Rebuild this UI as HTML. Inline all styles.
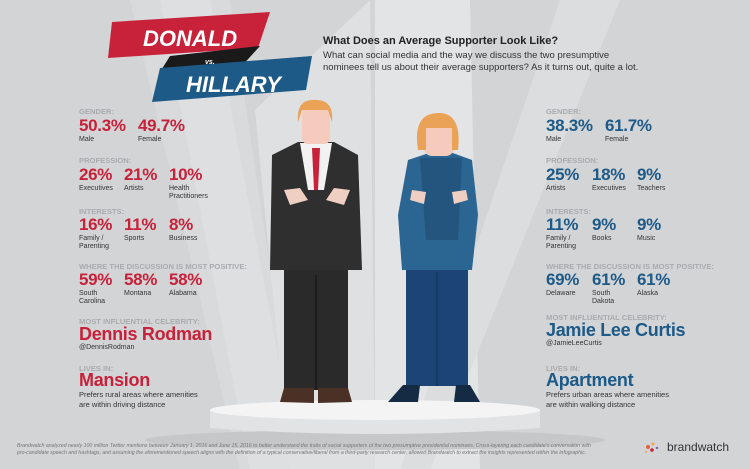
<!DOCTYPE html>
<html><head><meta charset="utf-8"><style>
body{margin:0;width:750px;height:469px;overflow:hidden;font-family:"Liberation Sans",sans-serif;}
#c{position:relative;width:750px;height:469px;background:#d3d4d6;overflow:hidden}
.t{position:absolute;white-space:nowrap}
.lab{font-size:7.6px;font-weight:bold;color:#a9abae}
.big{font-size:17px;font-weight:bold;letter-spacing:-0.3px}
.sm{font-size:7px;color:#333;line-height:8px}
.r{color:#c8213a}.b{color:#1d5a88}
.name{font-size:18px;font-weight:bold;letter-spacing:-0.3px}
</style></head><body><div id="c">
<svg width="750" height="469" style="position:absolute;left:0;top:0">
<polygon points="130,0 230,0 300,470 240,470" fill="#d9dadc"/>
<polygon points="160,0 210,0 300,470 250,470" fill="#dedfe1"/>
<polygon points="255,110 370,0 375,470 290,470" fill="#dfe0e2"/>
<polygon points="375,0 470,0 480,470 375,470" fill="#e3e4e6"/>
<polygon points="560,0 620,0 430,470 400,470" fill="#dcdddf"/>
<ellipse cx="375" cy="440" rx="230" ry="10" fill="#c6c7c9"/>
<path d="M210 410 L540 410 L540 428 Q375 440 210 428Z" fill="#e2e3e5"/>
<ellipse cx="375" cy="410" rx="165" ry="10" fill="#f4f4f5"/>
<polygon points="112,22 270,12 258,48 108,58" fill="#c8213a"/>
<polygon points="170,56 260,46 240,68 160,72" fill="#1a1a1a"/>
<polygon points="160,68 312,56 306,90 152,102" fill="#1d5a88"/>
<text x="143" y="46" fill="#fff" font-size="22" font-weight="bold" font-style="italic">DONALD</text>
<text x="205" y="64" fill="#fff" font-size="7" font-weight="bold" font-style="italic">vs.</text>
<text x="186" y="92" fill="#fff" font-size="22" font-weight="bold" font-style="italic">HILLARY</text>
<rect x="284" y="265" width="64" height="125" fill="#2a2a2a"/>
<line x1="316" y1="275" x2="316" y2="390" stroke="#1d1d1d" stroke-width="2"/>
<path d="M318 388 L348 388 L352 402 L318 403Z" fill="#4a3025"/>
<path d="M284 388 L314 388 L314 403 L280 402Z" fill="#4a3025"/>
<path d="M272 155 L298 142 L334 142 L358 155 L362 270 L270 270Z" fill="#2f2f2f"/>
<polygon points="300,143 332,143 324,190 308,190" fill="#f2f2f2"/>
<polygon points="312,148 320,148 318,190 314,190" fill="#c8213a"/>
<path d="M284 190 L300 188 L308 200 L290 205Z" fill="#f0cfc3"/>
<path d="M334 188 L350 190 L344 205 L326 200Z" fill="#f0cfc3"/>
<rect x="302" y="108" width="28" height="36" rx="6" fill="#f4cbbd"/>
<path d="M298 122 Q296 98 316 100 Q334 100 332 122 L328 110 L302 110Z" fill="#e9a256"/>
<rect x="406" y="268" width="62" height="118" fill="#1c4576"/>
<line x1="437" y1="272" x2="437" y2="386" stroke="#163a64" stroke-width="2"/>
<path d="M403 385 L420 385 L418 402 L388 402Z" fill="#152b44"/>
<path d="M456 385 L470 385 L480 402 L454 402Z" fill="#152b44"/>
<path d="M408 160 L432 152 L450 152 L472 160 L478 215 L472 270 L402 270 L398 215Z" fill="#2b6591"/>
<polygon points="420,158 462,158 458,240 426,240" fill="#24557e"/>
<path d="M412 190 L426 192 L424 204 L410 200Z" fill="#f0cfc3"/>
<path d="M452 192 L466 190 L468 200 L454 204Z" fill="#f0cfc3"/>
<rect x="424" y="122" width="30" height="34" rx="8" fill="#f4cbbd"/>
<path d="M418 150 Q412 112 440 113 Q462 114 458 150 L452 150 L452 128 L426 128 L426 150Z" fill="#e9a256"/>
<g><circle cx="648" cy="447" r="2" fill="#e8623a"/><circle cx="653" cy="444" r="1.5" fill="#f2a33a"/><circle cx="652" cy="450" r="1.8" fill="#c8213a"/><circle cx="657" cy="448" r="1.2" fill="#8a5fb5"/><circle cx="646" cy="452" r="1" fill="#f2a33a"/></g>
</svg>
<div class="t" style="left:323px;top:35px;font-size:11px;font-weight:bold;color:#222">What Does an Average Supporter Look Like?</div>
<div class="t" style="left:323px;top:50px;font-size:9.5px;color:#333;line-height:12px">What can social media and the way we discuss the two presumptive<br>nominees tell us about their average supporters? As it turns out, quite a lot.</div>

<div class="t lab" style="left:79px;top:107px">GENDER:</div>
<div class="t big r" style="left:79px;top:116px">50.3%</div><div class="t big r" style="left:138px;top:116px">49.7%</div>
<div class="t sm" style="left:79px;top:136px">Male</div><div class="t sm" style="left:138px;top:136px">Female</div>
<div class="t lab" style="left:79px;top:156px">PROFESSION:</div>
<div class="t big r" style="left:79px;top:165px">26%</div><div class="t big r" style="left:124px;top:165px">21%</div><div class="t big r" style="left:169px;top:165px">10%</div>
<div class="t sm" style="left:79px;top:185px">Executives</div><div class="t sm" style="left:124px;top:185px">Artists</div><div class="t sm" style="left:169px;top:185px">Health<br>Practitioners</div>
<div class="t lab" style="left:79px;top:207px">INTERESTS:</div>
<div class="t big r" style="left:79px;top:215px">16%</div><div class="t big r" style="left:124px;top:215px">11%</div><div class="t big r" style="left:169px;top:215px">8%</div>
<div class="t sm" style="left:79px;top:235px">Family /<br>Parenting</div><div class="t sm" style="left:124px;top:235px">Sports</div><div class="t sm" style="left:169px;top:235px">Business</div>
<div class="t lab" style="left:79px;top:262px">WHERE THE DISCUSSION IS MOST POSITIVE:</div>
<div class="t big r" style="left:79px;top:270px">59%</div><div class="t big r" style="left:124px;top:270px">58%</div><div class="t big r" style="left:169px;top:270px">58%</div>
<div class="t sm" style="left:79px;top:290px">South<br>Carolina</div><div class="t sm" style="left:124px;top:290px">Montana</div><div class="t sm" style="left:169px;top:290px">Alabama</div>
<div class="t lab" style="left:79px;top:317px">MOST INFLUENTIAL CELEBRITY:</div>
<div class="t name r" style="left:79px;top:324px">Dennis Rodman</div>
<div class="t sm" style="left:79px;top:344px">@DennisRodman</div>
<div class="t lab" style="left:79px;top:364px">LIVES IN:</div>
<div class="t name r" style="left:79px;top:370px">Mansion</div>
<div class="t sm" style="left:79px;top:390px;font-size:7.5px;line-height:9.5px">Prefers rural areas where amenities<br>are within driving distance</div>

<div class="t lab" style="left:546px;top:107px">GENDER:</div>
<div class="t big b" style="left:546px;top:116px">38.3%</div><div class="t big b" style="left:605px;top:116px">61.7%</div>
<div class="t sm" style="left:546px;top:136px">Male</div><div class="t sm" style="left:605px;top:136px">Female</div>
<div class="t lab" style="left:546px;top:156px">PROFESSION:</div>
<div class="t big b" style="left:546px;top:165px">25%</div><div class="t big b" style="left:592px;top:165px">18%</div><div class="t big b" style="left:637px;top:165px">9%</div>
<div class="t sm" style="left:546px;top:185px">Artists</div><div class="t sm" style="left:592px;top:185px">Executives</div><div class="t sm" style="left:637px;top:185px">Teachers</div>
<div class="t lab" style="left:546px;top:207px">INTERESTS:</div>
<div class="t big b" style="left:546px;top:215px">11%</div><div class="t big b" style="left:592px;top:215px">9%</div><div class="t big b" style="left:637px;top:215px">9%</div>
<div class="t sm" style="left:546px;top:235px">Family /<br>Parenting</div><div class="t sm" style="left:592px;top:235px">Books</div><div class="t sm" style="left:637px;top:235px">Music</div>
<div class="t lab" style="left:546px;top:262px">WHERE THE DISCUSSION IS MOST POSITIVE:</div>
<div class="t big b" style="left:546px;top:270px">69%</div><div class="t big b" style="left:592px;top:270px">61%</div><div class="t big b" style="left:637px;top:270px">61%</div>
<div class="t sm" style="left:546px;top:290px">Delaware</div><div class="t sm" style="left:592px;top:290px">South<br>Dakota</div><div class="t sm" style="left:637px;top:290px">Alaska</div>
<div class="t lab" style="left:546px;top:313px">MOST INFLUENTIAL CELEBRITY:</div>
<div class="t name b" style="left:546px;top:320px">Jamie Lee Curtis</div>
<div class="t sm" style="left:546px;top:340px">@JamieLeeCurtis</div>
<div class="t lab" style="left:546px;top:364px">LIVES IN:</div>
<div class="t name b" style="left:546px;top:370px">Apartment</div>
<div class="t sm" style="left:546px;top:390px;font-size:7.5px;line-height:9.5px">Prefers urban areas where amenities<br>are within walking distance</div>

<div class="t" style="left:17px;top:443px;font-size:5.2px;font-style:italic;color:#777;line-height:6.5px">Brandwatch analyzed nearly 100 million Twitter mentions between January 1, 2016 and June 15, 2016 to better understand the traits of social supporters of the two presumptive presidential nominees. Cross-layering each candidate's conversation with<br>pro-candidate speech and hashtags, and assuming the aforementioned speech aligns with the definition of a typical conservative/liberal from a third-party research center, allowed Brandwatch to extract the insights represented within the infographic.</div>
<div class="t" style="left:667px;top:440px;font-size:12px;color:#333">brandwatch</div>
</div></body></html>
